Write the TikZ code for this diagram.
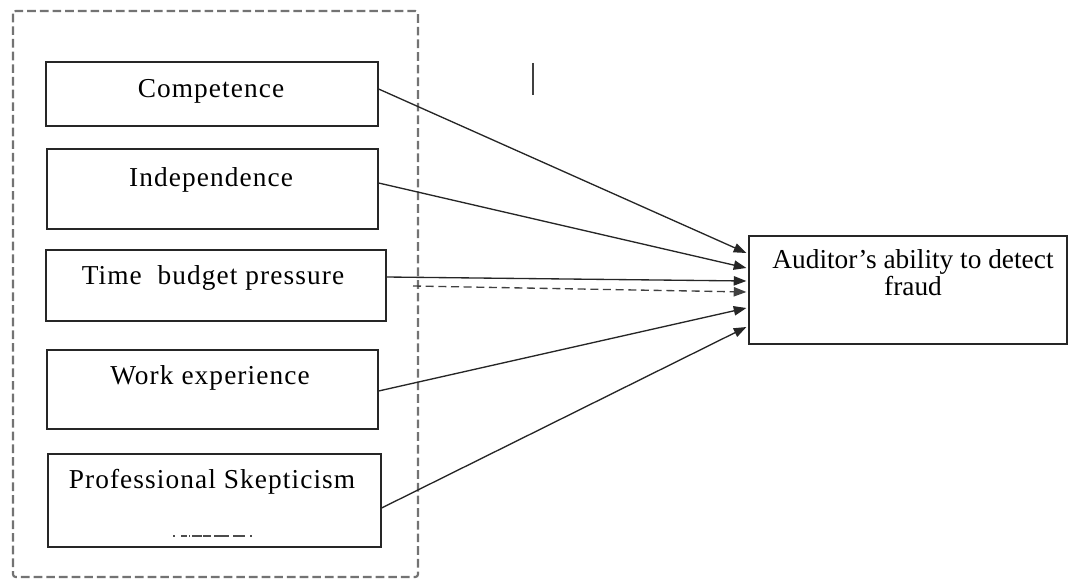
\documentclass[tikz,border=0pt]{standalone}
\usepackage{fontspec}
\setmainfont{Liberation Serif}
\newfontfamily\spacedserif{Liberation Serif}[LetterSpace=4]
\usetikzlibrary{arrows.meta,calc}
\tikzset{
  varbox/.style={draw=black!85,line width=0.9pt,rectangle,inner sep=0pt},
  lbl/.style={anchor=base,inner sep=0pt,font=\fontsize{20.5}{21}\selectfont},
  slbl/.style={lbl,font=\spacedserif\fontsize{20.5}{21}\selectfont},
  link/.style={draw=black!85,line width=1pt,-{Triangle[length=9.5pt,width=7pt]}},
  dlink/.style={link,draw=black!75,dash pattern=on 6pt off 3.5pt},
  group/.style={draw=black!55,line width=1.6pt,dash pattern=on 6.5pt off 3pt,rounded corners=2pt},
}
\begin{document}
\begin{tikzpicture}[x=0.75pt,y=-0.75pt]
\useasboundingbox (0,0) rectangle (1070,581);
% grouping frame
\draw[group] (13,11) rectangle (418,577);
% boxes
\node[varbox,minimum width=249pt,minimum height=48pt] (comp) at (212,94) {};
\node[varbox,minimum width=248.25pt,minimum height=60pt] (ind) at (212.5,189) {};
\node[varbox,minimum width=255pt,minimum height=53.25pt] (tbp) at (216,285.5) {};
\node[varbox,minimum width=248.25pt,minimum height=59.25pt] (work) at (212.5,389.5) {};
\node[varbox,minimum width=249.75pt,minimum height=69.75pt] (prof) at (214.5,500.5) {};
\node[varbox,minimum width=238.5pt,minimum height=81pt] (out) at (908,290) {};
% labels
\node[slbl] (tcomp) at (211,98) {Competence};
\node[slbl] (tind) at (211,186) {Independence};
\node[slbl] (ttbp) at (213,284) {Time\ \ budget pressure};
\node[slbl] (twork) at (210,384) {Work experience};
\node[slbl] (tprof) at (212,488) {Professional Skepticism};
\node[lbl] (tout1) at (913,268) {Auditor’s ability to detect};
\node[lbl] (tout2) at (913,295) {fraud};
% stray marks
\draw[black!75,line width=1.5pt] (533,63) -- (533,95);
\foreach \a/\b in {173/174.5,181/187,189/190,192/202,203/211,214/229,233/245,250/252}
  \draw[black!70,line width=1.1pt] (\a,536) -- (\b,536);
% connectors
\coordinate (dstart) at (413,286);
\draw[link] ($(comp.east)+(0,-5)$) -- ($(out.west)+(-2,-37)$);
\draw[link] ($(ind.east)+(0,-6)$) -- ($(out.west)+(-2,-22)$);
\draw[link] ($(tbp.east)+(0,-8.5)$) -- ($(out.west)+(-2,-9)$);
\draw[dlink] (dstart) -- ($(out.west)+(-2,2)$);
\draw[link] ($(work.east)+(0,1.5)$) -- ($(out.west)+(-2,18)$);
\draw[link] ($(prof.east)+(0,7.5)$) -- ($(out.west)+(-2,37)$);
\end{tikzpicture}
\end{document}
